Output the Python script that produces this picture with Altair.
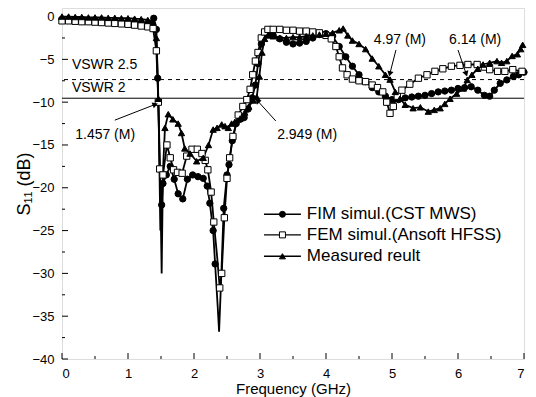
import math
import altair as alt
import pandas as pd

# ---- measured / simulated return loss (S11, dB) ----
fim_f = [0.0, 0.1, 0.2, 0.3, 0.4, 0.5, 0.6, 0.7, 0.8, 0.9, 1.0, 1.1, 1.2, 1.3, 1.36, 1.39,
         1.43, 1.45, 1.47, 1.49, 1.51, 1.53, 1.58, 1.64, 1.70, 1.76, 1.83, 1.90, 1.98, 2.06,
         2.14, 2.20, 2.24, 2.29, 2.32, 2.36, 2.38, 2.41, 2.45, 2.50, 2.53, 2.58, 2.64, 2.70,
         2.76, 2.82, 2.88, 2.93, 2.97, 3.02, 3.07, 3.12, 3.2, 3.3, 3.4, 3.5, 3.6, 3.7, 3.8,
         3.9, 4.0, 4.1, 4.2, 4.3, 4.4, 4.5, 4.6, 4.7, 4.8, 4.9, 5.0, 5.1, 5.2, 5.3, 5.4, 5.5,
         5.6, 5.7, 5.8, 5.9, 6.0, 6.1, 6.2, 6.3, 6.4, 6.48, 6.55, 6.64, 6.74, 6.84, 6.92, 7.0]
fim_db = [-0.3, -0.3, -0.3, -0.35, -0.4, -0.4, -0.45, -0.5, -0.55, -0.6, -0.65, -0.7, -0.8,
          -0.9, -1.0, -0.2, -1.5, -7.2, -14.0, -25.0, -22.0, -19.5, -18.5, -17.5, -19.0,
          -20.7, -21.3, -19.0, -18.5, -18.7, -18.9, -19.8, -21.8, -25.0, -28.9, -34.0, -36.8,
          -31.0, -22.4, -18.5, -17.3, -14.5, -12.5, -12.0, -11.8, -10.8, -9.5, -8.0, -5.5,
          -3.2, -2.0, -1.8, -2.2, -2.6, -3.0, -3.2, -3.1, -2.9, -2.5, -2.1, -2.0, -2.3, -3.5,
          -4.7, -5.8, -6.8, -7.6, -8.3, -8.8, -9.3, -9.7, -9.7, -9.5, -9.4, -9.3, -9.2, -9.0,
          -8.8, -8.7, -8.6, -8.4, -8.3, -8.2, -8.6, -9.2, -9.3, -8.6, -7.8, -7.4, -7.0, -6.8,
          -6.5]
fim_bare = [1.47, 1.49, 2.36, 2.38, 2.41]   # sample points drawn as line only

fem_f = [0.0, 0.1, 0.2, 0.3, 0.4, 0.5, 0.6, 0.7, 0.8, 0.9, 1.0, 1.1, 1.2, 1.3, 1.38, 1.43,
         1.46, 1.48, 1.50, 1.53, 1.59, 1.64, 1.69, 1.75, 1.82, 1.89, 1.97, 2.05, 2.12, 2.17,
         2.21, 2.26, 2.30, 2.35, 2.39, 2.42, 2.46, 2.50, 2.54, 2.59, 2.67, 2.74, 2.80, 2.85,
         2.89, 2.93, 2.97, 3.02, 3.07, 3.12, 3.2, 3.3, 3.4, 3.5, 3.6, 3.7, 3.8, 3.9, 4.0,
         4.08, 4.15, 4.2, 4.25, 4.32, 4.4, 4.5, 4.6, 4.7, 4.78, 4.86, 4.92, 4.97, 5.02, 5.08,
         5.15, 5.27, 5.4, 5.53, 5.65, 5.77, 5.9, 6.03, 6.15, 6.29, 6.4, 6.48, 6.6, 6.71, 6.83,
         6.97]
fem_db = [-0.5, -0.5, -0.55, -0.6, -0.6, -0.65, -0.7, -0.75, -0.8, -0.85, -0.9, -1.0, -1.1,
          -1.2, -1.4, -4.0, -10.0, -17.8, -22.0, -18.5, -15.0, -16.5, -17.9, -18.2, -18.3,
          -16.3, -15.5, -15.5, -16.0, -16.8, -17.9, -20.5, -24.0, -28.0, -31.7, -30.0, -23.5,
          -18.9, -16.5, -14.0, -11.5, -10.5, -9.7, -8.5, -6.8, -5.2, -4.2, -2.5, -1.8, -1.5,
          -1.5, -1.5, -1.6, -1.6, -1.7, -1.7, -1.8, -1.9, -2.2, -2.6, -3.5, -4.7, -6.0, -6.8,
          -7.3, -7.5, -7.6, -8.0, -8.3, -8.8, -10.0, -11.3, -10.5, -9.3, -8.6, -7.9, -7.2,
          -6.8, -6.4, -6.1, -5.8, -5.7, -5.6, -5.6, -5.9, -6.2, -6.4, -6.4, -6.2, -6.4]
fem_bare = [1.50, 2.35]

meas_f = [0.0, 0.1, 0.2, 0.3, 0.4, 0.5, 0.6, 0.7, 0.8, 0.9, 1.0, 1.1, 1.2, 1.3, 1.38, 1.43,
          1.46, 1.49, 1.51, 1.53, 1.56, 1.61, 1.68, 1.76, 1.81, 1.86, 1.94, 2.04, 2.14, 2.22,
          2.29, 2.35, 2.42, 2.47, 2.52, 2.57, 2.62, 2.70, 2.77, 2.83, 2.90, 2.95, 2.99, 3.03,
          3.07, 3.12, 3.2, 3.3, 3.4, 3.5, 3.6, 3.7, 3.8, 3.9, 4.0, 4.1, 4.2, 4.26, 4.33, 4.4,
          4.5, 4.6, 4.7, 4.8, 4.9, 4.97, 5.05, 5.12, 5.2, 5.32, 5.43, 5.55, 5.64, 5.73, 5.8,
          5.88, 5.98, 6.08, 6.14, 6.21, 6.3, 6.38, 6.48, 6.59, 6.66, 6.74, 6.82, 6.9, 6.95,
          6.98]
meas_db = [0.0, 0.0, -0.05, -0.05, -0.1, -0.1, -0.1, -0.15, -0.15, -0.2, -0.2, -0.25, -0.3,
           -0.4, -0.6, -2.5, -9.6, -20.0, -30.0, -18.0, -13.0, -11.4, -12.0, -12.5, -13.6,
           -15.4, -16.0, -16.9, -16.5, -15.0, -13.2, -13.0, -12.6, -12.8, -13.0, -12.5, -12.3,
           -11.9, -11.2, -10.5, -9.8, -9.4, -7.0, -4.2, -2.6, -2.2, -2.3, -2.5, -2.5, -2.4,
           -2.4, -2.3, -2.2, -2.1, -2.0, -1.9, -1.6, -1.4, -2.2, -2.8, -3.2, -3.8, -4.9, -5.8,
           -6.8, -7.36, -8.8, -9.6, -10.3, -10.7, -10.6, -11.1, -10.9, -10.7, -10.2, -9.6,
           -9.0, -8.4, -7.4, -6.8, -6.1, -5.6, -5.4, -5.2, -5.4, -5.2, -4.6, -4.4, -3.8, -3.3]
meas_bare = [1.49, 1.51, 1.53]

series_names = ["FIM simul.(CST MWS)", "FEM simul.(Ansoft HFSS)", "Measured reult"]
series_shapes = ["circle", "square", "triangle-up"]
series_fills = ["black", "white", "black"]

# VSWR reference levels (dB)
vswr_levels = [-7.36, -9.54]
vswr_dash = ["dashed", "solid"]
vswr_text = ["VSWR 2.5", "VSWR 2"]
vswr_text_f = [0.15, 0.15]
vswr_text_db = [-5.6, -8.4]

# marker annotations: label position, arrow start, arrow tip
ann_text = ["1.457 (M)", "2.949 (M)", "4.97 (M)", "6.14 (M)"]
ann_f = [0.2, 3.26, 5.12, 6.26]
ann_db = [-13.8, -13.8, -2.7, -2.7]
ann_align = ["left", "left", "center", "center"]
arr_f0 = [0.80, 3.24, 5.06, 6.00]
arr_db0 = [-12.1, -12.2, -3.9, -3.9]
arr_f1 = [1.40, 2.97, 4.97, 6.12]
arr_db1 = [-10.3, -9.9, -6.6, -6.6]

x_major = [0, 1, 2, 3, 4, 5, 6, 7]
x_minor = [0.5, 1.5, 2.5, 3.5, 4.5, 5.5, 6.5]
y_major = [0, -5, -10, -15, -20, -25, -30, -35, -40]
y_minor = [-2.5, -7.5, -12.5, -17.5, -22.5, -27.5, -32.5, -37.5]

# legend rows
leg_db = [-23.1, -25.5, -28.0]
leg_f0, leg_f1, leg_fm, leg_ft = 3.06, 3.62, 3.34, 3.71

W, H = 462, 351
X_DOM = [0, 7]
Y_DOM = [-40, 1]
FONT = "Liberation Sans"

xs = alt.Scale(domain=X_DOM, nice=False, zero=False)
ys = alt.Scale(domain=Y_DOM, nice=False, zero=False)

rows = []
for name, fs, ds, bare in zip(series_names, [fim_f, fem_f, meas_f],
                              [fim_db, fem_db, meas_db], [fim_bare, fem_bare, meas_bare]):
    for f, d in zip(fs, ds):
        rows.append({"series": name, "f": f, "db": d, "mark": f not in bare})
curves = pd.DataFrame(rows)

shape_scale = alt.Scale(domain=series_names, range=series_shapes)
fill_scale = alt.Scale(domain=series_names, range=series_fills)

x_enc = alt.X("f:Q", scale=xs,
              axis=alt.Axis(title="Frequency (GHz)", values=x_major, format="d",
                            ticks=False, domain=False, grid=False, labelPadding=8,
                            labelFontSize=13, titleFontSize=15, titleFontWeight="normal",
                            titlePadding=1, labelFont=FONT, titleFont=FONT,
                            labelColor="black", titleColor="black"))
y_enc = alt.Y("db:Q", scale=ys,
              axis=alt.Axis(title="S₁₁ (dB)", values=y_major, format="d",
                            ticks=False, domain=False, grid=False, labelPadding=8,
                            labelFontSize=13, titleFontSize=18, titleFontWeight="normal",
                            titlePadding=-2, labelFont=FONT, titleFont=FONT,
                            labelColor="black", titleColor="black"))

lines = alt.Chart(curves).mark_line(color="black", strokeWidth=1.8).encode(
    x=x_enc, y=y_enc, detail="series:N")

points = alt.Chart(curves).transform_filter(alt.datum.mark).mark_point(
    filled=True, size=40, stroke="black", strokeWidth=1, opacity=1).encode(
    x=alt.X("f:Q", scale=xs), y=alt.Y("db:Q", scale=ys),
    shape=alt.Shape("series:N", scale=shape_scale, legend=None),
    fill=alt.Fill("series:N", scale=fill_scale, legend=None))

# VSWR reference lines
vswr_df = pd.DataFrame({"db": vswr_levels, "style": vswr_dash})
vswr_dashed = alt.Chart(vswr_df[vswr_df["style"] == "dashed"]).mark_rule(
    color="black", strokeWidth=1, strokeDash=[4, 4]).encode(y=alt.Y("db:Q", scale=ys))
vswr_solid = alt.Chart(vswr_df[vswr_df["style"] == "solid"]).mark_rule(
    color="black", strokeWidth=1).encode(y=alt.Y("db:Q", scale=ys))

vswr_lab = alt.Chart(pd.DataFrame({"f": vswr_text_f, "db": vswr_text_db, "t": vswr_text})).mark_text(
    align="left", baseline="middle", fontSize=14, font=FONT, color="black").encode(
    x=alt.X("f:Q", scale=xs), y=alt.Y("db:Q", scale=ys), text="t:N")

# annotation labels and arrows
ann_df = pd.DataFrame({"f": ann_f, "db": ann_db, "t": ann_text, "a": ann_align})
ann_left = alt.Chart(ann_df[ann_df["a"] == "left"]).mark_text(
    align="left", baseline="middle", fontSize=14, font=FONT, color="black").encode(
    x=alt.X("f:Q", scale=xs), y=alt.Y("db:Q", scale=ys), text="t:N")
ann_center = alt.Chart(ann_df[ann_df["a"] == "center"]).mark_text(
    align="center", baseline="middle", fontSize=14, font=FONT, color="black").encode(
    x=alt.X("f:Q", scale=xs), y=alt.Y("db:Q", scale=ys), text="t:N")

px_per_f = W / (X_DOM[1] - X_DOM[0])
px_per_db = H / (Y_DOM[1] - Y_DOM[0])
angles = []
for f0, d0, f1, d1 in zip(arr_f0, arr_db0, arr_f1, arr_db1):
    dx = (f1 - f0) * px_per_f
    dy = -(d1 - d0) * px_per_db
    angles.append(math.degrees(math.atan2(dx, -dy)) % 360)
arr_df = pd.DataFrame({"f0": arr_f0, "db0": arr_db0, "f1": arr_f1, "db1": arr_db1,
                       "ang": angles})
arr_shaft = alt.Chart(arr_df).mark_rule(color="black", strokeWidth=1).encode(
    x=alt.X("f0:Q", scale=xs), y=alt.Y("db0:Q", scale=ys), x2="f1:Q", y2="db1:Q")
arr_head = alt.Chart(arr_df).mark_point(shape="triangle", filled=True, size=40,
                                        color="black", opacity=1).encode(
    x=alt.X("f1:Q", scale=xs), y=alt.Y("db1:Q", scale=ys),
    angle=alt.Angle("ang:Q", scale=None))

# inward tick marks on the bottom and left frame
xt_major = alt.Chart(pd.DataFrame({"v": x_major})).mark_rule(color="black", strokeWidth=1).encode(
    x=alt.X("v:Q", scale=xs), y=alt.value(H), y2=alt.value(H - 6))
xt_minor = alt.Chart(pd.DataFrame({"v": x_minor})).mark_rule(color="black", strokeWidth=1).encode(
    x=alt.X("v:Q", scale=xs), y=alt.value(H), y2=alt.value(H - 3))
yt_major = alt.Chart(pd.DataFrame({"v": y_major})).mark_rule(color="black", strokeWidth=1).encode(
    y=alt.Y("v:Q", scale=ys), x=alt.value(0), x2=alt.value(6))
yt_minor = alt.Chart(pd.DataFrame({"v": y_minor})).mark_rule(color="black", strokeWidth=1).encode(
    y=alt.Y("v:Q", scale=ys), x=alt.value(0), x2=alt.value(3))

# legend drawn inside the plot
leg_df = pd.DataFrame({"series": series_names, "db": leg_db,
                       "f0": [leg_f0] * 3, "f1": [leg_f1] * 3,
                       "fm": [leg_fm] * 3, "ft": [leg_ft] * 3})
leg_line = alt.Chart(leg_df).mark_rule(color="black", strokeWidth=1.4).encode(
    x=alt.X("f0:Q", scale=xs), x2="f1:Q", y=alt.Y("db:Q", scale=ys))
leg_pt = alt.Chart(leg_df).mark_point(filled=True, size=36, stroke="black",
                                      strokeWidth=1, opacity=1).encode(
    x=alt.X("fm:Q", scale=xs), y=alt.Y("db:Q", scale=ys),
    shape=alt.Shape("series:N", scale=shape_scale, legend=None),
    fill=alt.Fill("series:N", scale=fill_scale, legend=None))
leg_txt = alt.Chart(leg_df).mark_text(align="left", baseline="middle", fontSize=17,
                                      font=FONT, color="black").encode(
    x=alt.X("ft:Q", scale=xs), y=alt.Y("db:Q", scale=ys), text="series:N")

chart = alt.layer(
    vswr_dashed, vswr_solid, lines, points, vswr_lab, ann_left, ann_center,
    arr_shaft, arr_head, xt_major, xt_minor, yt_major, yt_minor,
    leg_line, leg_pt, leg_txt,
).properties(
    width=W, height=H,
    autosize=alt.AutoSizeParams(type="none"),
    padding={"left": 62, "top": 8, "right": 12, "bottom": 38},
).configure_view(
    stroke="black", strokeWidth=1.6
).configure(background="white")

chart.save("out.html", embed_options={"renderer": "svg", "actions": False})
